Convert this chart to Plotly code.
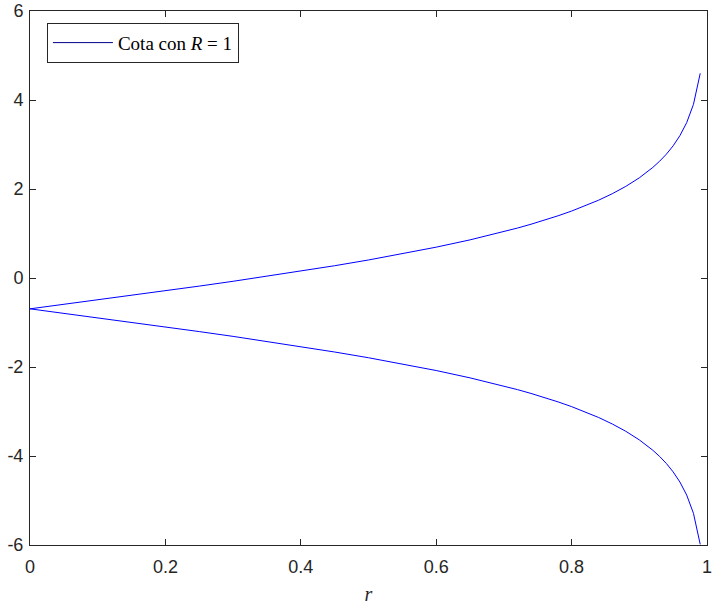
import plotly.graph_objects as go

r_vals = [0.0, 0.05, 0.1, 0.15, 0.2, 0.25, 0.3, 0.35, 0.4, 0.45, 0.5, 0.55, 0.6,
          0.65, 0.7, 0.72, 0.74, 0.76, 0.78, 0.8, 0.82, 0.84, 0.86, 0.88, 0.9,
          0.91, 0.92, 0.93, 0.94, 0.95, 0.96, 0.97, 0.98, 0.99]
upper = [-0.693, -0.593, -0.492, -0.391, -0.288, -0.182, -0.074, 0.038, 0.154,
         0.276, 0.405, 0.544, 0.693, 0.857, 1.041, 1.122, 1.208, 1.299, 1.398,
         1.504, 1.620, 1.749, 1.894, 2.058, 2.251, 2.362, 2.485, 2.624, 2.783,
         2.970, 3.199, 3.492, 3.902, 4.600]
lower = [-0.693, -0.793, -0.894, -0.996, -1.099, -1.204, -1.312, -1.424, -1.540,
         -1.663, -1.792, -1.930, -2.079, -2.244, -2.428, -2.508, -2.594, -2.685,
         -2.784, -2.890, -3.006, -3.135, -3.280, -3.444, -3.638, -3.748, -3.871,
         -4.010, -4.169, -4.357, -4.585, -4.878, -5.288, -5.986]
x_ticks = [0, 0.2, 0.4, 0.6, 0.8, 1]
x_labels = ["0", "0.2", "0.4", "0.6", "0.8", "1"]
y_ticks = [-6, -4, -2, 0, 2, 4, 6]
y_labels = ["-6", "-4", "-2", "0", "2", "4", "6"]
legend_label = "Cota con <i>R</i> = 1"

fig = go.Figure()
fig.add_trace(go.Scatter(x=[None], y=[None], mode="lines", name=legend_label,
                         line=dict(color="#00008b", width=1)))
fig.add_trace(go.Scatter(x=r_vals, y=upper, mode="lines", showlegend=False,
                         line=dict(color="#0000ff", width=1)))
fig.add_trace(go.Scatter(x=r_vals, y=lower, mode="lines", showlegend=False,
                         line=dict(color="#0000ff", width=1)))

axis_common = dict(showgrid=False, zeroline=False, showline=True, linecolor="#262626",
                   linewidth=1, mirror="ticks", ticks="inside", ticklen=6,
                   tickcolor="#262626", automargin=False,
                   tickfont=dict(family="Liberation Sans, Arial", size=18, color="#262626"))
fig.update_layout(
    width=713, height=605,
    margin=dict(l=30, r=6, t=11, b=60),
    paper_bgcolor="white", plot_bgcolor="white",
    xaxis=dict(range=[0, 1], tickvals=x_ticks, ticktext=x_labels, ticklabelstandoff=5,
               title=dict(text="<i>r</i>", font=dict(family="Liberation Serif", size=20, color="#262626"),
                          standoff=12),
               **axis_common),
    yaxis=dict(range=[-6, 6], tickvals=y_ticks, ticktext=y_labels, ticklabelstandoff=2,
               **axis_common),
    legend=dict(x=0.025, y=0.978, xanchor="left", yanchor="top",
                bgcolor="white", bordercolor="#262626", borderwidth=1,
                font=dict(family="Liberation Serif", size=19, color="black"),
                itemwidth=60, tracegroupgap=0),
    showlegend=True,
)
fig.write_html("out.html", config={"displayModeBar": False},
               post_script="document.body.style.margin='0';")
